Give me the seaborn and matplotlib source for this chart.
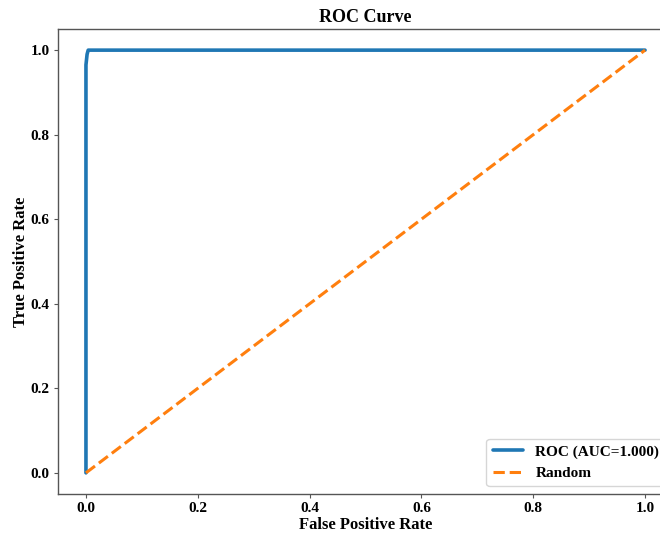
import matplotlib
matplotlib.use("Agg")
import matplotlib.pyplot as plt
import seaborn as sns
import pandas as pd

# ROC data
fpr = [0.0, 0.0, 0.0, 0.002, 0.004, 1.0]
tpr = [0.0, 0.5, 0.965, 0.99, 1.0, 1.0]
rand_x = [0.0, 1.0]
rand_y = [0.0, 1.0]
roc_label = "ROC (AUC=1.000)"
rand_label = "Random"
ticks = [0.0, 0.2, 0.4, 0.6, 0.8, 1.0]
tick_labels = ["0.0", "0.2", "0.4", "0.6", "0.8", "1.0"]

sns.set_theme(style="ticks")
plt.rcParams["font.family"] = ["Liberation Serif", "DejaVu Serif"]
plt.rcParams["font.weight"] = "bold"
plt.rcParams["text.color"] = "black"
plt.rcParams["axes.labelcolor"] = "black"
plt.rcParams["xtick.labelcolor"] = "black"
plt.rcParams["ytick.labelcolor"] = "black"

fig = plt.figure(figsize=(6.6, 5.34), dpi=100)
ax = fig.add_axes([58 / 660, 40 / 534, 615 / 660, 465 / 534])

roc_df = pd.DataFrame({"fpr": fpr, "tpr": tpr})
rand_df = pd.DataFrame({"x": rand_x, "y": rand_y})
sns.lineplot(data=roc_df, x="fpr", y="tpr", ax=ax, color="#1f77b4", lw=2.6,
             label=roc_label, sort=False, estimator=None)
sns.lineplot(data=rand_df, x="x", y="y", ax=ax, color="#ff7f0e", lw=2.2,
             linestyle="--", label=rand_label, sort=False, estimator=None)

ax.set_xlim(-0.05, 1.05)
ax.set_ylim(-0.05, 1.05)
ax.set_xticks(ticks)
ax.set_yticks(ticks)
ax.set_xticklabels(tick_labels, fontsize=11, fontweight="bold", color="black")
ax.set_yticklabels(tick_labels, fontsize=11, fontweight="bold", color="black")
ax.set_xlabel("False Positive Rate", fontsize=12, fontweight="bold", labelpad=1, color="black")
ax.set_ylabel("True Positive Rate", fontsize=12, fontweight="bold", labelpad=1, color="black")
ax.set_title("ROC Curve", fontsize=13, fontweight="bold", pad=5, color="black")
for s in ax.spines.values():
    s.set_color("#555555")
    s.set_linewidth(1.0)
ax.tick_params(length=3, width=0.8, color="#555555", pad=3)
leg = ax.legend(loc="lower right", prop={"weight": "bold", "size": 11},
                frameon=True)
leg.get_frame().set_edgecolor("#cccccc")
for t in leg.get_texts():
    t.set_color("black")

fig.savefig("out.png", dpi=100)
